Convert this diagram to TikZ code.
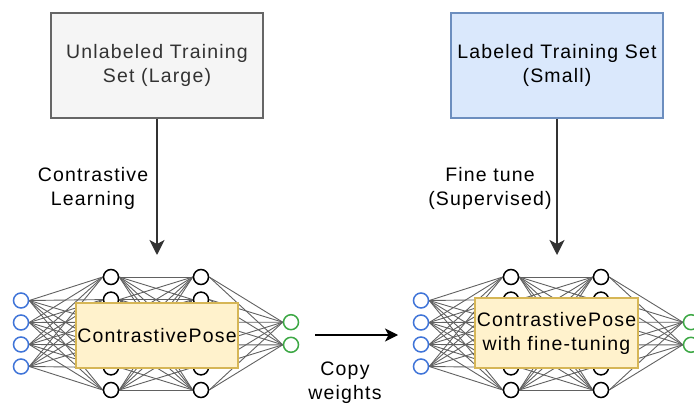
\documentclass[tikz,border=0pt]{standalone}
\usepackage{fontspec}
\setmainfont{Liberation Sans}[LetterSpace=6]
\usetikzlibrary{arrows.meta,backgrounds}
\definecolor{grayfill}{HTML}{F5F5F5}
\definecolor{grayline}{HTML}{666666}
\definecolor{textgray}{HTML}{333333}
\definecolor{bluefill}{HTML}{DAE8FC}
\definecolor{blueline}{HTML}{6C8EBF}
\definecolor{yelfill}{HTML}{FFF2CC}
\definecolor{yelline}{HTML}{D6B656}
\definecolor{inblue}{HTML}{3F74D8}
\definecolor{outgreen}{HTML}{3DA845}
\tikzset{
  setbox/.style={draw, line width=1.5pt, minimum width=212pt, minimum height=105pt, align=center, inner sep=0pt},
  netbox/.style={draw=yelline, fill=yelfill, line width=1.5pt, align=center, inner sep=0pt, text=black},
  neuron/.style={circle, draw, line width=1.5pt, fill=white, minimum size=15pt, inner sep=0pt},
  edge/.style={draw=black!62, line width=0.9pt},
  bigarrow/.style={draw=textgray, line width=1.6pt, -{Stealth[length=15pt,width=15pt,inset=4pt]}},
  smallarrow/.style={draw=black, line width=1.3pt, -{Stealth[length=13pt,width=13pt,inset=3.5pt]}},
  lbl/.style={align=center, text=black, inner sep=0pt}
}
\begin{document}
\begin{tikzpicture}[x=1pt,y=-1pt,font=\fontsize{19.5}{24}\selectfont]
\useasboundingbox (0,0) rectangle (694,409);
\clip (0,0) rectangle (694,409);

% top boxes
\node[setbox, fill=grayfill, draw=grayline, text=textgray] (unl) at (157,65.5) {Unlabeled Training\\Set (Large)};
\node[setbox, fill=bluefill, draw=blueline, text=black] (lab) at (557,65.5) {Labeled Training Set\\(Small)};

\coordinate (ltip) at (157,255);
\coordinate (rtip) at (557,255);
\draw[bigarrow] (unl) -- (ltip);
\draw[bigarrow] (lab) -- (rtip);

\node[lbl] (cl) at (93,188) {Contrastive\\Learning};
\node[lbl] (ft) at (490,188) {Fine tune\\(Supervised)};

% networks
\foreach \net/\dx in {a/0,b/400} {
  \foreach \i in {1,...,4}
    \node[neuron, draw=inblue] (\net-in-\i) at ({21+\dx},{300.5+22*(\i-1)}) {};
  \foreach \j in {1,...,6} {
    \node[neuron, draw=black] (\net-ha-\j) at ({111+\dx},{277+22.6*(\j-1)}) {};
    \node[neuron, draw=black] (\net-hb-\j) at ({201+\dx},{277+22.6*(\j-1)}) {};
  }
  \foreach \k in {1,2}
    \node[neuron, draw=outgreen] (\net-out-\k) at ({291+\dx},{322.2+22.6*(\k-1)}) {};
  \begin{pgfonlayer}{background}
    \foreach \i in {1,...,4}
      \foreach \j in {1,...,6}
        \draw[edge] (\net-in-\i.east) -- (\net-ha-\j.west);
    \foreach \i in {1,...,6}
      \foreach \j in {1,...,6}
        \draw[edge] (\net-ha-\i.east) -- (\net-hb-\j.west);
    \foreach \i in {1,...,6}
      \foreach \k in {1,2}
        \draw[edge] (\net-hb-\i.east) -- (\net-out-\k.west);
  \end{pgfonlayer}
}

\node[netbox, minimum width=162pt, minimum height=65pt] (cp) at (157,335.5) {ContrastivePose};
\node[netbox, minimum width=163pt, minimum height=70pt] (cpf) at (556.5,333) {ContrastivePose\\with fine-tuning};

% copy weights
\coordinate (cw1) at (315,335);
\coordinate (cw2) at (398,335);
\draw[smallarrow] (cw1) -- (cw2);
\node[lbl] (cwl) at (345,383) {Copy\\weights};
\end{tikzpicture}
\end{document}
